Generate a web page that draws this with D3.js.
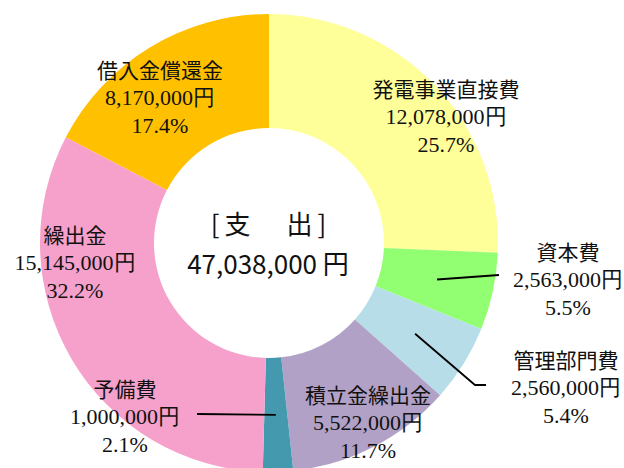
<!DOCTYPE html>
<html><head><meta charset="utf-8">
<script src="https://cdn.jsdelivr.net/npm/d3@7"></script>
<style>
html,body{margin:0;padding:0;background:#fff;}
svg{display:block;}
</style></head>
<body>
<script>
// ---- data ----
const categories = ["発電事業直接費","資本費","管理部門費","積立金繰出金","予備費","繰出金","借入金償還金"];
const amounts = [12078000, 2563000, 2560000, 5522000, 1000000, 15145000, 8170000];
const amountLabels = ["12,078,000円","2,563,000円","2,560,000円","5,522,000円","1,000,000円","15,145,000円","8,170,000円"];
const percentLabels = ["25.7%","5.5%","5.4%","11.7%","2.1%","32.2%","17.4%"];
const centerTitle = "[支　出]";
const centerTotal = "47,038,000 円";

// ---- layout / style ----
const W = 624, H = 468;
const cx = 269, cy = 243, rOuter = 229, rInner = 115;
const colors = ["#FFFF99","#92FF72","#B7DDE8","#B1A1C7","#4599AF","#F5A1CB","#FFC000"];
// label centre (line 2) offsets from chart centre, and leader line ends
const labelOffsets = [[177,-127],[299,36],[297,144],[99,179],[-144,173],[-194,19],[-109,-146]];
const leaderEnds = [null, [[230,32]], [[206,142],[217,142]], null, [[-72,171]], null, null];

const svg = d3.select("body").append("svg").attr("width", W).attr("height", H);
const g = svg.append("g").attr("transform", `translate(${cx},${cy})`);

const pie = d3.pie().sort(null).value(d => d)(amounts);
const arc = d3.arc().innerRadius(rInner).outerRadius(rOuter);

g.selectAll("path.slice").data(pie).join("path")
  .attr("class","slice")
  .attr("d", arc)
  .attr("fill", (d,i) => colors[i]);

// leader lines
pie.forEach((d,i) => {
  if (!leaderEnds[i]) return;
  const pts = [arc.centroid(d), ...leaderEnds[i]];
  g.append("path").attr("d", d3.line()(pts))
    .attr("fill","none").attr("stroke","#000").attr("stroke-width",1.8);
});

const jpFont = "'Noto Sans CJK JP', 'Noto Sans', sans-serif";
const numFont = "'Liberation Serif', 'DejaVu Serif', serif";
const lh = 28;

categories.forEach((c,i) => {
  const [dx,dy] = labelOffsets[i];
  const t = g.append("g").attr("transform", `translate(${dx},${dy})`);
  t.append("text").attr("y", -lh).attr("text-anchor","middle").attr("dominant-baseline","central")
    .attr("font-family", jpFont).attr("font-size", 21).attr("fill","#111").text(c);
  t.append("text").attr("y", 0).attr("text-anchor","middle").attr("dominant-baseline","central")
    .attr("font-family", numFont).attr("font-size", 22).attr("fill","#111").text(amountLabels[i]);
  t.append("text").attr("y", lh).attr("text-anchor","middle").attr("dominant-baseline","central")
    .attr("font-family", numFont).attr("font-size", 22).attr("fill","#111").text(percentLabels[i]);
});

g.append("text").attr("x",2).attr("y",-21).attr("text-anchor","middle").attr("dominant-baseline","central")
  .attr("font-family", jpFont).attr("font-size", 26).attr("letter-spacing", 5).attr("fill","#111").text(centerTitle);
g.append("text").attr("x",-1).attr("y",19).attr("text-anchor","middle").attr("dominant-baseline","central")
  .attr("font-family", jpFont).attr("font-size", 26).attr("fill","#111").text(centerTotal);
</script>
</body></html>
